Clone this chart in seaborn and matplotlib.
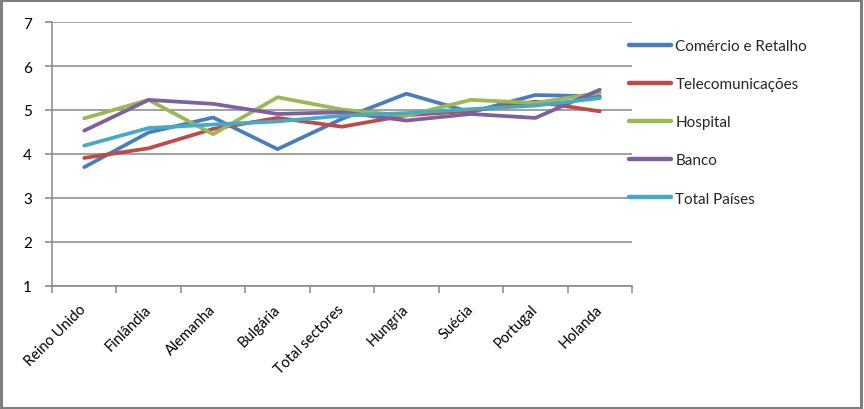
import matplotlib
matplotlib.use("Agg")
import matplotlib.pyplot as plt
import seaborn as sns
import pandas as pd
from matplotlib.patches import Rectangle
from matplotlib.lines import Line2D

categories = ["Reino Unido", "Finlândia", "Alemanha", "Bulgária", "Total sectores",
              "Hungria", "Suécia", "Portugal", "Holanda"]
comercio = [3.70, 4.49, 4.83, 4.11, 4.80, 5.37, 4.95, 5.34, 5.31]
telecom = [3.91, 4.13, 4.57, 4.82, 4.62, 4.88, 4.98, 5.19, 4.97]
hospital = [4.81, 5.23, 4.45, 5.29, 5.01, 4.87, 5.23, 5.16, 5.39]
banco = [4.53, 5.23, 5.14, 4.91, 4.95, 4.76, 4.91, 4.82, 5.46]
total_paises = [4.19, 4.59, 4.67, 4.74, 4.87, 4.93, 5.02, 5.10, 5.27]

series_names = ["Comércio e Retalho", "Telecomunicações", "Hospital", "Banco", "Total Países"]
series_values = [comercio, telecom, hospital, banco, total_paises]
colors = ["#4A7EBB", "#BE4B48", "#98B954", "#7D60A0", "#46AAC5"]

rows = []
for name, vals in zip(series_names, series_values):
    for i, v in enumerate(vals):
        rows.append({"pos": i, "value": v, "serie": name})
df = pd.DataFrame(rows)

sns.set_theme(style="white")
plt.rcParams["font.family"] = ["Lato", "DejaVu Sans"]

fig = plt.figure(figsize=(8.64, 4.10), dpi=100)
ax = fig.add_axes([52/864, 1-287/410, (632-52)/864, (287-23)/410])

sns.lineplot(data=df, x="pos", y="value", hue="serie", hue_order=series_names,
             palette=colors, linewidth=2.7, ax=ax, legend=False, sort=False)
for ln in ax.get_lines():
    ln.set_solid_capstyle("round")
    ln.set_solid_joinstyle("round")

ax.set_xlim(-0.5, len(categories) - 0.5)
ax.set_ylim(1, 7)
ax.set_yticks(range(1, 8))
ax.set_yticklabels([str(i) for i in range(1, 8)])
ax.yaxis.grid(True, color="#868686", linewidth=1.1)
ax.set_axisbelow(True)
ax.set_xlabel("")
ax.set_ylabel("")

for s in ["top", "right"]:
    ax.spines[s].set_visible(False)
for s in ["left", "bottom"]:
    ax.spines[s].set_color("#868686")
    ax.spines[s].set_linewidth(1.1)

# boundaries ticks (major) + centered labels (minor)
ax.set_xticks([i - 0.5 for i in range(len(categories) + 1)])
ax.set_xticklabels([""] * (len(categories) + 1))
ax.set_xticks(range(len(categories)), minor=True)
ax.set_xticklabels(categories, minor=True, rotation=45, ha="right", va="center",
                   rotation_mode="anchor", fontsize=10.5, color="#000000")
ax.tick_params(axis="x", which="major", length=5, width=1.1, color="#868686", direction="out", bottom=True)
ax.tick_params(axis="x", which="minor", length=0, pad=15)
ax.tick_params(axis="y", length=5, width=1.1, color="#868686", direction="out", left=True,
               labelsize=11, pad=9.5, labelcolor="#000000")

handles = [Line2D([0], [0], color=c, linewidth=3.2, solid_capstyle="round") for c in colors]
leg = fig.legend(handles, series_names, loc="upper left", bbox_to_anchor=(629/864, 1-40/410),
                 frameon=False, fontsize=11, handlelength=2.75, handletextpad=0.28,
                 labelspacing=1.58, borderaxespad=0, borderpad=0)

fig.patches.append(Rectangle((0.0015, 0.002), 0.995, 0.995, transform=fig.transFigure,
                             fill=False, edgecolor="#7f7f7f", linewidth=2.2))

fig.savefig("out.png", dpi=100)
